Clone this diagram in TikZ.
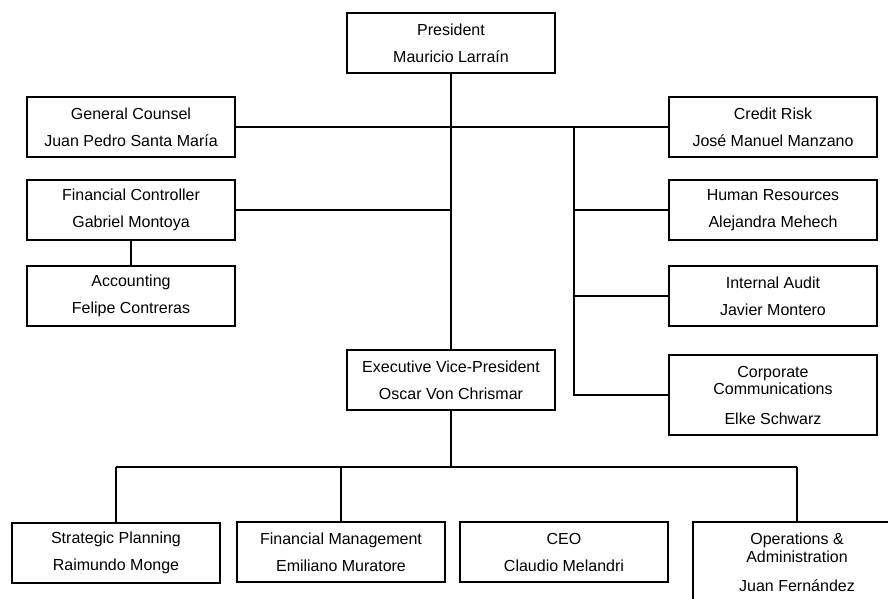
\documentclass[tikz,border=0pt]{standalone}
\usepackage{fontspec}
\setmainfont{Liberation Sans}
\usepackage{tikz}

\begin{document}
\begin{tikzpicture}[x=1pt,y=-1pt,
	box/.style={shape=rectangle,draw=black,line width=1.6pt,minimum width=208pt,
		minimum height=60pt,align=center,inner sep=2pt,
		font=\fontsize{16}{18}\selectfont},
	tall/.style={box,minimum height=80pt},
	link/.style={line width=1.4pt},
	trunk/.style={line width=2.2pt}]

	\clip (0,0) rectangle (888,599);

	\node[box]  (pres) at (451, 43)  {President\\[9pt]Mauricio Larraín};

	\node[box]  (gc)   at (131, 127) {General Counsel\\[9pt]Juan Pedro Santa María};
	\node[box]  (fc)   at (131, 210) {Financial Controller\\[9pt]Gabriel Montoya};
	\node[box]  (acc)  at (131, 296) {Accounting\\[9pt]Felipe Contreras};

	\node[box]  (cr)   at (773, 127) {Credit Risk\\[9pt]José Manuel Manzano};
	\node[box]  (hr)   at (773, 210) {Human Resources\\[9pt]Alejandra Mehech};
	\node[box]  (ia)   at (773, 296) {Internal Audit\\[9pt]Javier Montero};
	\node[tall] (cc)   at (773, 395) {Corporate\\[-1pt]Communications\\[12pt]Elke Schwarz};

	\node[box]  (evp)  at (451, 380) {Executive Vice-President\\[9pt]Oscar Von Chrismar};

	\node[box]  (sp)   at (116, 553) {Strategic Planning\\[9pt]Raimundo Monge};
	\node[box]  (fm)   at (341, 552) {Financial Management\\[9pt]Emiliano Muratore};
	\node[box]  (ceo)  at (564, 552) {CEO\\[9pt]Claudio Melandri};
	\node[tall] (ops)  at (797, 562) {Operations \&\\Administration\\[11pt]Juan Fernández};

	\coordinate (bus)   at (574, 127);
	\coordinate (split) at (451, 467);

	\draw[trunk] (pres) -- (evp);
	\draw[link]  (gc.east) -- (cr.west);
	\draw[link]  (fc.east) -- (fc.east -| evp.north);
	\draw[link]  (fc) -- (acc);

	\draw[trunk] (bus) |- (cc.west);
	\draw[link]  (hr.west -| bus) -- (hr.west);
	\draw[link]  (ia.west -| bus) -- (ia.west);

	\draw[trunk] (evp) -- (split);
	\draw[link]  (split -| sp.north) -- (split -| ops.north);
	\draw[link]  (split -| sp.north) -- (sp);
	\draw[link]  (split -| fm.north) -- (fm);
	\draw[link]  (split -| ops.north) -- (ops);

\end{tikzpicture}
\end{document}
